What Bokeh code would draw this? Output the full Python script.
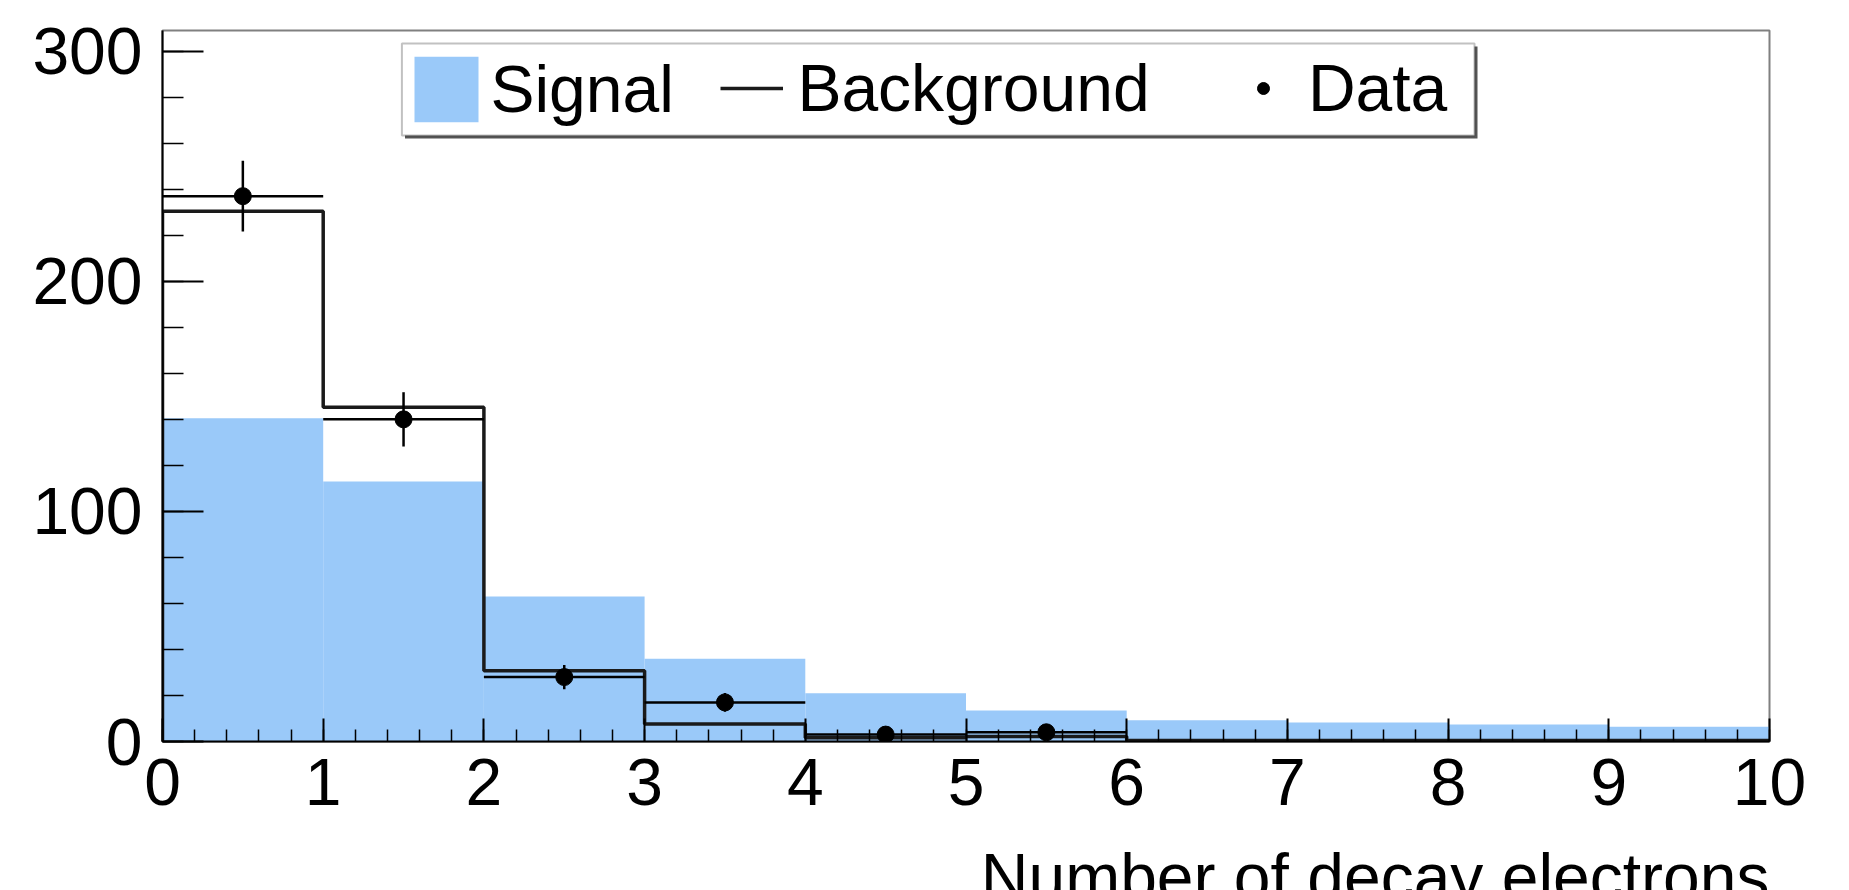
from bokeh.plotting import figure
from bokeh.layouts import column
from bokeh.core.properties import value
from bokeh.models import (Range1d, FixedTicker, Legend, LegendItem, BoxAnnotation)
from bokeh.embed import file_html
from bokeh.resources import INLINE

# ---- data ----
bin_edges = [0, 1, 2, 3, 4, 5, 6, 7, 8, 9, 10]
signal = [140.5, 113.0, 63.0, 36.0, 21.0, 13.5, 9.2, 8.3, 7.4, 6.4]
background = [230.5, 145.3, 30.8, 7.6, 1.6, 2.2, 0.4, 0.4, 0.4, 0.4]
data_centers = [0.5, 1.5, 2.5, 3.5, 4.5, 5.5]
data_counts = [237, 140, 28, 17, 3, 4]
data_errors = [15.4, 11.8, 5.3, 4.1, 1.7, 2.0]
x_ticks = [0, 1, 2, 3, 4, 5, 6, 7, 8, 9, 10]
y_ticks = [0, 100, 200, 300]
x_title = "Number of decay electrons"

FONT = "Liberation Sans"
FS = "66px"

p = figure(width=1849, height=824, x_range=Range1d(0, 10), y_range=Range1d(0, 309),
           output_backend="svg", toolbar_location=None,
           min_border_left=162, min_border_right=80, min_border_top=30, min_border_bottom=83)
p.grid.visible = False
p.outline_line_color = "#808080"
p.outline_line_width = 2
p.background_fill_color = "white"
p.border_fill_color = "white"

# axes
xa = p.xaxis[0]
xa.ticker = FixedTicker(ticks=x_ticks, minor_ticks=[i * 0.2 for i in range(51)])
xa.major_tick_in = 23
xa.major_tick_out = 0
xa.minor_tick_in = 12
xa.minor_tick_out = 0
xa.axis_line_width = 2
xa.major_tick_line_width = 2
xa.minor_tick_line_width = 1.5
xa.major_label_text_font = FONT
xa.major_label_text_font_size = FS
xa.major_label_text_color = "black"
xa.major_label_standoff = 17

ya = p.yaxis[0]
ya.ticker = FixedTicker(ticks=y_ticks, minor_ticks=list(range(0, 310, 20)))
ya.major_tick_in = 41
ya.major_tick_out = 0
ya.minor_tick_in = 21
ya.minor_tick_out = 0
ya.axis_line_width = 2
ya.major_tick_line_width = 2
ya.minor_tick_line_width = 1.5
ya.major_label_text_font = FONT
ya.major_label_text_font_size = FS
ya.major_label_text_color = "black"
ya.major_label_standoff = 20

# signal histogram
r_sig = p.quad(left=bin_edges[:-1], right=bin_edges[1:], bottom=0, top=signal,
               fill_color="#9AC9F9", line_color=None)

# background step line
bx = [bin_edges[0]]
by = [0]
for i in range(len(background)):
    bx += [bin_edges[i], bin_edges[i + 1]]
    by += [background[i], background[i]]
bx.append(bin_edges[-1])
by.append(0)
r_bkg = p.line(bx, by, line_color="#1a1a1a", line_width=3.5)

# data with errors
lo = [bin_edges[i] for i in range(len(data_counts))]
hi = [bin_edges[i + 1] for i in range(len(data_counts))]
p.segment(x0=lo, x1=hi, y0=data_counts, y1=data_counts, line_color="black", line_width=2.5)
p.segment(x0=data_centers, x1=data_centers,
          y0=[c - e for c, e in zip(data_counts, data_errors)],
          y1=[c + e for c, e in zip(data_counts, data_errors)],
          line_color="black", line_width=2.5)
r_data = p.scatter(data_centers, data_counts, size=17, color="black")

# legend frame (shadow + box)
shadow = BoxAnnotation(left=242.5, right=1315, top=695, bottom=603,
                       left_units="screen", right_units="screen",
                       top_units="screen", bottom_units="screen",
                       fill_color="#555555", fill_alpha=1, line_color=None)
box = BoxAnnotation(left=239.4, right=1312, top=698, bottom=606,
                    left_units="screen", right_units="screen",
                    top_units="screen", bottom_units="screen",
                    fill_color="white", fill_alpha=1, line_color="#333333", line_width=2)
p.add_layout(shadow)
p.add_layout(box)


def mk_legend(label, rend, loc, gw, standoff):
    return Legend(items=[LegendItem(label=label, renderers=[rend])], location=loc,
                  orientation="horizontal", glyph_width=gw, glyph_height=82,
                  label_height=82, label_standoff=standoff, padding=0, margin=0,
                  border_line_alpha=0, background_fill_alpha=0,
                  label_text_font=FONT, label_text_font_size=FS, label_text_color="black")


p.add_layout(mk_legend("Signal", r_sig, (244.4, 611), 80, 4))
p.add_layout(mk_legend("Background", r_bkg, (558.4, 612), 63, 14))
p.add_layout(mk_legend("Data", r_data, (1085.9, 612), 30, 30))

# strip below holding the x-axis title, frame aligned with the main plot
p2 = figure(width=1849, height=66, x_range=Range1d(0, 10), y_range=Range1d(0, 66),
            output_backend="svg", toolbar_location=None, title=None,
            x_axis_location=None, y_axis_location=None,
            min_border_left=162, min_border_right=80, min_border_top=0, min_border_bottom=0)
p2.grid.visible = False
p2.outline_line_color = None
p2.background_fill_color = "white"
p2.border_fill_color = "white"
p2.text(x=[x_ticks[-1]], y=[14], text=[x_title], text_align="right",
        text_baseline="alphabetic", text_font=value(FONT), text_font_size=value(FS),
        text_color="black")

layout = column(p, p2, spacing=0)
open("out.html", "w").write(file_html(layout, INLINE))
